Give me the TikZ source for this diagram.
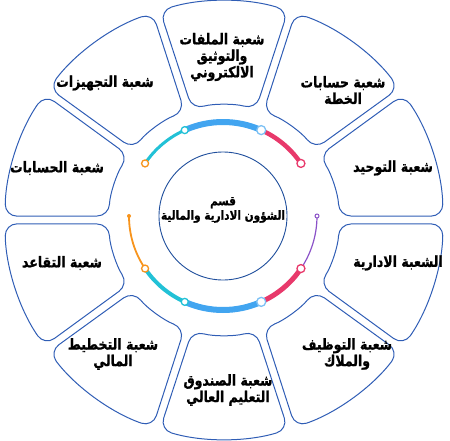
\documentclass[tikz,border=0pt]{standalone}
\usepackage{fontspec}
\usepackage{xcolor}
\usepackage{graphicx}
\newfontfamily\arabicfont[Script=Arabic, BoldFont={DejaVu Sans Bold}, BoldFeatures={FakeBold=1.2}]{DejaVu Sans}
\TeXXeTstate=1
\newcommand{\ar}[1]{\scalebox{1}[1.2]{\arabicfont\bfseries\beginR #1\endR}}
\definecolor{sectorblue}{HTML}{2F5DB5}
\definecolor{navy}{HTML}{1F4E9C}
\definecolor{ringorange}{HTML}{F7941D}
\definecolor{ringcyan}{HTML}{22C1D6}
\definecolor{ringblue}{HTML}{42A5F0}
\definecolor{ringpink}{HTML}{E8396B}
\definecolor{ringviolet}{HTML}{8B52C8}

\begin{document}
\begin{tikzpicture}[
	x=1pt, y=1pt,
	every node/.style={font=\small},
	sector/.style={draw=sectorblue, line width=1pt, rounded corners=12pt},
	secttext/.style={align=center, font=\fontsize{12.5}{16.5}\selectfont, text=black},
	knob/.style={circle, draw=#1, fill=white, line width=1.3pt, inner sep=0pt, minimum size=7pt}
	]
	
	\useasboundingbox (0,0) rectangle (450,440);
	
	% outer sectors
	\begin{scope}[shift={(224,220)}]
		\foreach \a in {90,54,18,-18,-54,-90,-126,-162,162,126}
		\draw[sector] (\a+17:219) arc[start angle=\a+17, end angle=\a-17, radius=219]
		-- (\a-16:115) arc[start angle=\a-16, end angle=\a+16, radius=115] -- cycle;
	\end{scope}
	
	\node[secttext] (files) at (222,383) {\ar{شعبة الملفات}\\\ar{والتوثيق}\\\ar{الالكتروني}};
	\node[secttext] (plan) at (343,350) {\ar{شعبة حسابات}\\\ar{الخطة}};
	\node[secttext] (unify) at (393,272) {\ar{شعبة التوحيد}};
	\node[secttext] (admin) at (398,177) {\ar{الشعبة الادارية}};
	\node[secttext] (staff) at (347,86) {\ar{شعبة التوظيف}\\\ar{والملاك}};
	\node[secttext] (fund) at (228,50) {\ar{شعبة الصندوق}\\\ar{التعليم العالي}};
	\node[secttext] (finplan) at (113,86) {\ar{شعبة التخطيط}\\\ar{المالي}};
	\node[secttext] (retire) at (62,177) {\ar{شعبة التقاعد}};
	\node[secttext] (accounts) at (57,272) {\ar{شعبة الحسابات}};
	\node[secttext] (equip) at (105,357) {\ar{شعبة التجهيزات}};
	
	% centre
	\node[circle, draw=navy, line width=0.9pt, minimum size=128pt, inner sep=0pt] (dept) at (223,224) {};
	\node[secttext, font=\fontsize{10.5}{14.5}\selectfont] (depttext) at (223,230) {\ar{قسم}\\\ar{الشؤون الادارية والمالية}};
	
	% coloured rings
	\begin{scope}[shift={(223,224)}]
		\draw[ringcyan, line width=3pt] (146:94) arc[start angle=146, end angle=114, radius=94];
		\draw[ringblue, line width=6pt] (114:94) arc[start angle=114, end angle=66, radius=94];
		\draw[ringpink, line width=4.5pt] (66:94) arc[start angle=66, end angle=34, radius=94];
		
		\draw[ringviolet, line width=1.2pt] (0:94) arc[start angle=0, end angle=-34, radius=94];
		\draw[ringpink, line width=5pt] (-34:94) arc[start angle=-34, end angle=-66, radius=94];
		\draw[ringblue, line width=6pt] (-66:94) arc[start angle=-66, end angle=-114, radius=94];
		\draw[ringcyan, line width=4pt] (-114:94) arc[start angle=-114, end angle=-146, radius=94];
		\draw[ringorange, line width=1.8pt] (-146:94) arc[start angle=-146, end angle=-180, radius=94];
		
		\node[knob=ringorange] (upOrange) at (146:94) {};
		\node[knob=ringcyan] (upCyan) at (114:94) {};
		\node[knob=ringblue!70, minimum size=9pt] (upBlue) at (66:94) {};
		\node[knob=ringpink, minimum size=8pt] (upPink) at (34:94) {};
		
		\node[knob=ringviolet, minimum size=4pt, line width=1pt] (lowViolet) at (0:94) {};
		\node[knob=ringpink, minimum size=8pt] (lowPink) at (-34:94) {};
		\node[knob=ringblue!70, minimum size=9pt] (lowBlue) at (-66:94) {};
		\node[knob=ringcyan] (lowCyan) at (-114:94) {};
		\node[knob=ringorange] (lowOrange) at (-146:94) {};
		\node[circle, fill=ringorange, minimum size=4pt, inner sep=0pt] (endOrange) at (180:94) {};
	\end{scope}
	
\end{tikzpicture}
\end{document}
